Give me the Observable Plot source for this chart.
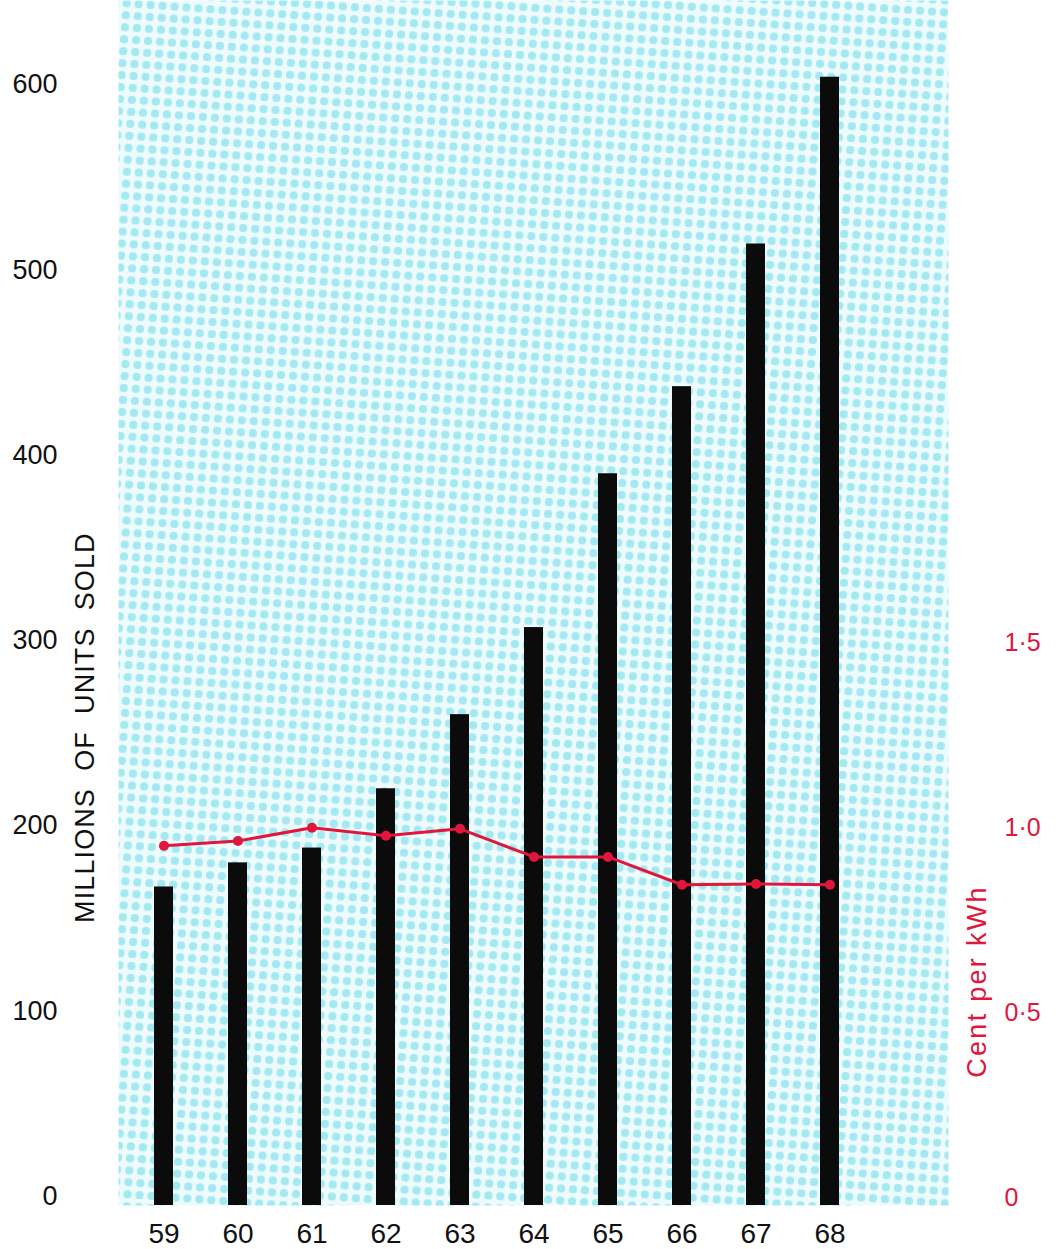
<!DOCTYPE html>
<html><head><meta charset="utf-8">
<script src="https://cdn.jsdelivr.net/npm/d3@7"></script>
<script src="https://cdn.jsdelivr.net/npm/@observablehq/plot@0.6"></script>
<style>body{margin:0;background:#fff}</style>
</head><body><div id="chart"></div>
<script>
// ---- data ----
const years = ["59","60","61","62","63","64","65","66","67","68"];
const unitsSold = [167,180,188,220,260,307,390,437,514,604];   // millions of units sold
const centPerKWh = [0.946,0.959,0.995,0.973,0.992,0.916,0.916,0.841,0.843,0.841];
const leftTicks = [0,100,200,300,400,500,600];
const rightTickValues = [0,0.5,1.0,1.5];
const rightTickLabels = ["0","0·5","1·0","1·5"];
const leftTitle = "MILLIONS  OF  UNITS  SOLD";
const rightTitle = "Cent per kWh";
const unitsPerCent = 200; // right axis: 0.5 cent aligns with 100 units

const data = years.map((y,i)=>({year:y, units:unitsSold[i], cent:centPerKWh[i]}));
const yDomain = [-4.9, 645.4];
const red = "#e0163c";
const font = "'Liberation Sans', Arial, Helvetica, sans-serif";

const chart = Plot.plot({
  width: 1057, height: 1249,
  marginLeft: 118, marginRight: 109, marginTop: 0, marginBottom: 44,
  style: {fontFamily: font, fontSize: "25px", color: "#111", background: "#fff"},
  x: {type: "band", domain: years, range: [127, 867], paddingInner: 0.74, paddingOuter: 0.37, align: 0.5, axis: null},
  y: {domain: yDomain, axis: null},
  marks: [
    Plot.frame({fill: "url(#halftone)", stroke: "none"}),
    Plot.barY(data, {x: "year", y1: yDomain[0], y2: "units", fill: "#0b0b0b"}),
    Plot.line(data, {x: "year", y: d => d.cent * unitsPerCent, stroke: red, strokeWidth: 3}),
    Plot.dot(data, {x: "year", y: d => d.cent * unitsPerCent, r: 5, fill: red, stroke: "none"}),
    Plot.axisY(leftTicks, {anchor: "left", tickSize: 0, tickPadding: 61, label: null, fontSize: 27, fill: "#111"}),
    Plot.axisY(rightTickValues.map(v => v * unitsPerCent), {anchor: "right", tickSize: 0, tickPadding: 56, label: null, dy: 2,
      tickFormat: v => rightTickLabels[rightTickValues.indexOf(v / unitsPerCent)], fontSize: 25, fill: red}),
    Plot.axisX(years, {anchor: "bottom", tickSize: 0, tickPadding: 18, label: null, fontSize: 28, fill: "#111"}),
    Plot.text([leftTitle], {frameAnchor: "left", y: [253], dx: -33, rotate: -90,
      fontSize: 27, fill: "#111", textAnchor: "middle", text: d => d}),
    Plot.text([rightTitle], {frameAnchor: "right", y: [116], dx: 29, rotate: -90,
      fontSize: 27, fill: red, textAnchor: "middle", text: d => d})
  ]
});

// letter spacing / preserved spaces for the typeset labels
const svg = d3.select(chart);
svg.selectAll("text").filter(function() { return this.textContent === leftTitle; })
  .attr("xml:space", "preserve").style("white-space", "pre").style("letter-spacing", "1.1px");
svg.selectAll("text").filter(function() { return this.textContent === rightTitle; })
  .style("letter-spacing", "2.3px");

// halftone pattern for the tinted plot background
const ns = "http://www.w3.org/2000/svg";
const defs = document.createElementNS(ns, "defs");
defs.innerHTML = `<pattern id="halftone" width="12" height="12" patternUnits="userSpaceOnUse" patternTransform="rotate(4)">
  <rect width="12" height="12" fill="#eefbfd"/>
  <rect x="2" y="2" width="8" height="8" rx="3.5" fill="#a3e9f1"/>
</pattern>`;
chart.insertBefore(defs, chart.firstChild);
document.getElementById("chart").appendChild(chart);
</script>
</body></html>
